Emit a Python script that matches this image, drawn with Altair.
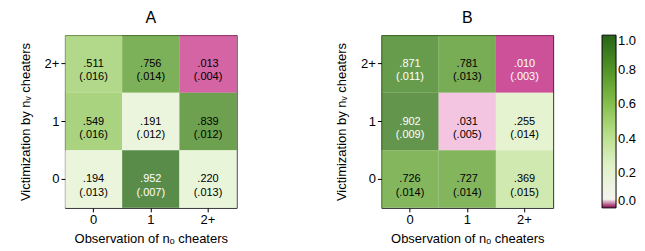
import altair as alt
import pandas as pd

obs_cats = ["0", "1", "2+"]
vic_cats = ["2+", "1", "0"]

# values[row][col], rows = victimization (2+,1,0), cols = observation (0,1,2+)
a_vals = [[0.511, 0.756, 0.013],
          [0.549, 0.191, 0.839],
          [0.194, 0.952, 0.220]]
a_errs = [[0.016, 0.014, 0.004],
          [0.016, 0.012, 0.012],
          [0.013, 0.007, 0.013]]
b_vals = [[0.871, 0.781, 0.010],
          [0.902, 0.031, 0.255],
          [0.726, 0.727, 0.369]]
b_errs = [[0.011, 0.013, 0.003],
          [0.009, 0.005, 0.014],
          [0.014, 0.014, 0.015]]


def fmt(v):
    return f"{v:.3f}".lstrip("0")


def make_df(vals, errs):
    rows = []
    for i, vc in enumerate(vic_cats):
        for j, oc in enumerate(obs_cats):
            v, e = vals[i][j], errs[i][j]
            rows.append({"obs": oc, "vic": vc, "value": v,
                         "label": f"{fmt(v)}\n({fmt(e)})"})
    return pd.DataFrame(rows)


FONT = "Liberation Sans"

color_scale = alt.Scale(scheme="pinkyellowgreen", domain=[0, 1], domainMid=0.05)


def panel(df, title):
    base = alt.Chart(df).encode(
        x=alt.X("obs:N", sort=obs_cats, title="Observation of nₒ cheaters",
                axis=alt.Axis(labelAngle=0, titlePadding=6)),
        y=alt.Y("vic:N", sort=vic_cats, title="Victimization by nᵥ cheaters",
                axis=alt.Axis(titlePadding=12)),
    )
    rect = base.mark_rect(opacity=0.8).encode(
        color=alt.Color("value:Q", scale=color_scale,
                        legend=alt.Legend(values=[0, 0.2, 0.4, 0.6, 0.8, 1.0],
                                          format=".1f", title=None, offset=48,
                                          gradientOpacity=1))
    )
    text = base.mark_text(fontSize=11, font=FONT, lineBreak="\n", baseline="middle",
                          lineHeight=13.5).encode(
        text="label:N",
        color=alt.condition("datum.value > 0.85 || datum.value < 0.012",
                            alt.value("white"), alt.value("black")),
    )
    return (rect + text).properties(
        width=172, height=173,
        title=alt.TitleParams(title, fontSize=16, font=FONT, fontWeight="normal", offset=9),
    )


chart = alt.hconcat(panel(make_df(a_vals, a_errs), "A"),
                    panel(make_df(b_vals, b_errs), "B"),
                    spacing=97).resolve_scale(color="shared").properties(
    padding={"left": 10, "top": 1, "right": 0, "bottom": 0})

chart = chart.configure_view(stroke="#222", strokeWidth=1).configure_axis(
    labelFont=FONT, titleFont=FONT, labelFontSize=13, titleFontSize=13,
    titleFontWeight="normal", labelColor="black", titleColor="black",
    tickColor="black", tickSize=4, domain=False, grid=False, labelPadding=2,
).configure_legend(
    gradientLength=173, gradientThickness=14, labelFont=FONT,
    labelFontSize=13, labelColor="black", gradientStrokeColor="black",
    gradientStrokeWidth=1, labelOffset=8,
)

chart.save("out.html", embed_options={"renderer": "svg", "actions": False})
